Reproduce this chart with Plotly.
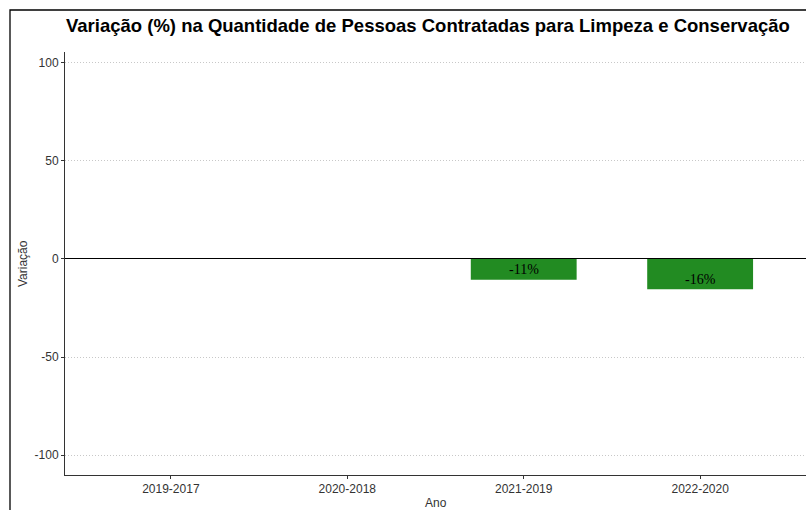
import plotly.graph_objects as go

categorias = ["2019-2017", "2020-2018", "2021-2019", "2022-2020"]
variacao = [None, None, -10.6, -15.5]
rotulos = ["", "", "-11%", "-16%"]
y_ticks = [-100, -50, 0, 50, 100]
y_tick_labels = ["-100", "-50", "0", "50", "100"]

W, H = 806, 510
ml, mt = 65, 52
mr = 0
mb = H - 475
pw, ph = W - ml - mr, H - mt - mb

def px_x(p):
    return (p - ml) / pw

def px_y(p):
    return (H - mb - p) / ph

fig = go.Figure()
fig.add_trace(go.Bar(
    x=categorias, y=variacao, width=0.6,
    marker=dict(color="#228B22", line=dict(width=0)),
    showlegend=False, hoverinfo="x+y",
))

for c, v, r in zip(categorias, variacao, rotulos):
    if v is None:
        continue
    fig.add_annotation(x=c, y=v + 5, text=r, showarrow=False,
                       font=dict(family="Liberation Serif, Times New Roman, serif", size=14, color="black"),
                       xref="x", yref="y")

# title and axis titles
fig.add_annotation(text="<b>Variação (%) na Quantidade de Pessoas Contratadas para Limpeza e Conservação</b>",
                   xref="paper", yref="paper", x=px_x(64), y=px_y(26), xanchor="left", yanchor="middle",
                   showarrow=False, font=dict(family="Liberation Sans, Arial, sans-serif", size=18.5, color="black"))
fig.add_annotation(text="Ano", xref="paper", yref="paper", x=px_x(436), y=px_y(503),
                   xanchor="center", yanchor="middle", showarrow=False,
                   font=dict(family="Liberation Sans, Arial, sans-serif", size=12, color="#333333"))
fig.add_annotation(text="Variação", xref="paper", yref="paper", x=px_x(23), y=px_y(264),
                   xanchor="center", yanchor="middle", textangle=-90, showarrow=False,
                   font=dict(family="Liberation Sans, Arial, sans-serif", size=12, color="#333333"))

# outer border (cropped figure frame)
fig.add_shape(type="rect", xref="paper", yref="paper",
              x0=px_x(10), y0=-0.5, x1=1.5, y1=px_y(10),
              line=dict(color="black", width=1.3), layer="above")

fig.update_layout(
    width=W, height=H,
    margin=dict(l=ml, r=mr, t=mt, b=mb, autoexpand=False),
    paper_bgcolor="white", plot_bgcolor="white",
    font=dict(family="Liberation Sans, Arial, sans-serif", size=12, color="#333333"),
    bargap=0.4,
)
fig.update_xaxes(
    type="category", categoryorder="array", categoryarray=categorias,
    range=[-0.6, 3.6], showline=True, linecolor="#333333", linewidth=1,
    ticks="outside", ticklen=3, tickcolor="#333333", showgrid=False,
    tickfont=dict(size=12, color="#333333"), automargin=False,
)
fig.update_yaxes(
    range=[-110.2, 105.6], tickvals=y_ticks, ticktext=y_tick_labels,
    showline=True, linecolor="#333333", linewidth=1,
    ticks="outside", ticklen=3, tickcolor="#333333",
    showgrid=True, gridcolor="#c8c8c8", griddash="1px,2px", gridwidth=1,
    zeroline=True, zerolinecolor="black", zerolinewidth=1,
    tickfont=dict(size=12, color="#333333"), automargin=False,
)

fig.write_html(
    "out.html",
    config={"displayModeBar": False},
    post_script="document.documentElement.style.margin='0';document.body.style.margin='0';"
                "document.body.style.overflow='hidden';document.documentElement.style.overflow='hidden';",
)
